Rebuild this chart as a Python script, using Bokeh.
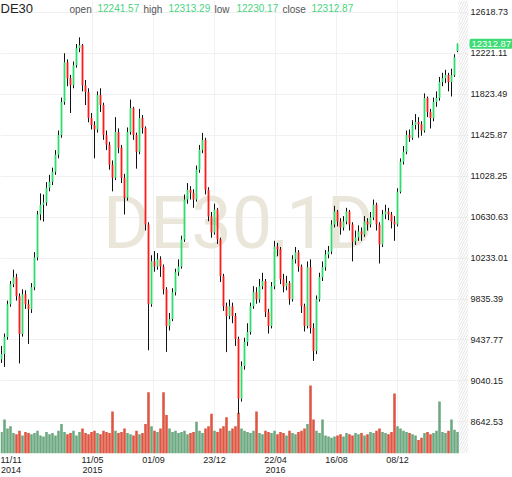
from bokeh.plotting import figure
from bokeh.models import Range1d, FixedTicker, Label, BoxAnnotation
from bokeh.embed import file_html
from bokeh.resources import INLINE

# ---- data (one candle per ~4 trading days) ----
open_ = [9250, 9302, 9467, 9785, 9979, 10046, 9863, 9496, 9882, 9785,
         9737, 9950, 10239, 10655, 10751, 10771, 10916, 10974, 11070, 11234,
         11427, 11746, 12133, 11978, 11910, 12104, 12268, 12297, 11910, 11843,
         11592, 11524, 11480, 11814, 11717, 11427, 11331, 11138, 11012, 11457,
         11302, 11012, 10819, 11457, 11688, 11427, 11263, 11592, 11495, 10558,
         9785, 10201, 10152, 10220, 10152, 9930, 9573, 9641, 9901, 10094,
         10152, 10413, 10800, 10896, 10867, 10800, 11089, 11283, 11379, 10896,
         10635, 10481, 10703, 10413, 10056, 9766, 9670, 9766, 9670, 9447,
         8868, 9186, 9418, 9515, 9766, 9901, 9834, 9959, 10010, 9708,
         9573, 9959, 10346, 10317, 10027, 9959, 9990, 9834, 10220, 10288,
         10152, 9766, 9573, 10143, 9553, 9331, 9834, 10046, 10143, 10268,
         10297, 10558, 10684, 10587, 10529, 10587, 10684, 10558, 10394, 10433,
         10491, 10462, 10587, 10558, 10626, 10751, 10558, 10365, 10655, 10684,
         10655, 10587, 10558, 10877, 11167, 11263, 11427, 11400, 11524, 11553,
         11530, 11470, 11785, 11650, 11592, 11746, 11785, 11940, 11978, 12010,
         11940, 12007, 12241.57]
close = [9302, 9467, 9785, 9979, 10046, 9863, 9496, 9882, 9785, 9737,
         9950, 10239, 10655, 10751, 10771, 10916, 10974, 11070, 11234, 11427,
         11746, 12133, 11978, 11910, 12104, 12268, 12297, 11910, 11843, 11592,
         11524, 11480, 11814, 11717, 11427, 11331, 11138, 11012, 11457, 11302,
         11012, 10819, 11457, 11688, 11427, 11263, 11592, 11495, 10558, 9785,
         10201, 10152, 10220, 10152, 9930, 9573, 9641, 9901, 10094, 10152,
         10413, 10800, 10896, 10867, 10800, 11089, 11283, 11379, 10896, 10635,
         10481, 10703, 10413, 10056, 9766, 9670, 9766, 9670, 9447, 8868,
         9186, 9418, 9515, 9766, 9901, 9834, 9959, 10010, 9708, 9573,
         9959, 10346, 10317, 10027, 9959, 9990, 9834, 10220, 10288, 10152,
         9766, 9573, 10143, 9553, 9331, 9834, 10046, 10143, 10268, 10297,
         10558, 10684, 10587, 10529, 10587, 10684, 10558, 10394, 10433, 10491,
         10462, 10587, 10558, 10626, 10751, 10558, 10365, 10655, 10684, 10655,
         10587, 10558, 10877, 11167, 11263, 11427, 11400, 11524, 11553, 11530,
         11470, 11785, 11650, 11592, 11746, 11785, 11940, 11978, 12010, 11940,
         12007, 12180, 12312.87]
high = [9380, 9500, 9820, 10010, 10120, 10080, 9890, 9930, 9920, 9830,
        9990, 10290, 10690, 10860, 10850, 10970, 11040, 11110, 11280, 11470,
        11790, 12220, 12160, 12010, 12140, 12310, 12374, 12310, 11960, 11880,
        11640, 11560, 11850, 11880, 11740, 11470, 11360, 11180, 11600, 11490,
        11330, 11050, 11500, 11770, 11700, 11450, 11680, 11620, 11510, 10580,
        10260, 10300, 10280, 10250, 10170, 9950, 9700, 9940, 10130, 10220,
        10450, 10850, 10960, 10930, 10900, 11130, 11330, 11447, 11400, 10920,
        10680, 10760, 10720, 10430, 10080, 9800, 9830, 9800, 9700, 9470,
        9230, 9460, 9600, 9800, 9960, 9950, 10030, 10090, 10030, 9740,
        10000, 10400, 10380, 10340, 10080, 10060, 10010, 10260, 10340, 10310,
        10170, 9790, 10200, 10220, 9600, 9870, 10090, 10200, 10310, 10350,
        10600, 10740, 10700, 10620, 10640, 10720, 10700, 10580, 10500, 10550,
        10530, 10640, 10620, 10680, 10800, 10770, 10580, 10700, 10750, 10720,
        10680, 10640, 10910, 11200, 11320, 11470, 11480, 11570, 11630, 11600,
        11560, 11830, 11800, 11680, 11790, 11850, 11990, 12030, 12060, 12030,
        12070, 12210, 12313.29]
low = [9215, 9177, 9440, 9760, 9950, 9820, 9210, 9470, 9740, 9399,
       9700, 9920, 10210, 10600, 10587, 10740, 10880, 10940, 11040, 11200,
       11400, 11720, 11900, 11640, 11880, 12080, 12230, 11850, 11717, 11550,
       11480, 11200, 11450, 11650, 11380, 11280, 11090, 10880, 10990, 11250,
       10960, 10655, 10790, 11430, 11380, 11100, 11240, 11440, 10500, 9338,
       9760, 10100, 10120, 10050, 9880, 9322, 9530, 9620, 9870, 10060,
       10130, 10390, 10760, 10800, 10720, 10780, 11060, 11250, 10850, 10590,
       10430, 10460, 10370, 10000, 9720, 9320, 9640, 9600, 9380, 8723,
       8840, 9150, 9380, 9490, 9740, 9790, 9800, 9930, 9660, 9500,
       9550, 9930, 10250, 9980, 9900, 9920, 9780, 9810, 10180, 10100,
       9700, 9520, 9550, 9500, 9235, 9300, 9810, 10010, 10110, 10230,
       10270, 10530, 10540, 10460, 10500, 10560, 10500, 10200, 10360, 10400,
       10400, 10440, 10500, 10530, 10600, 10500, 10180, 10340, 10610, 10600,
       10520, 10400, 10540, 10860, 11140, 11240, 11360, 11380, 11480, 11400,
       11420, 11450, 11600, 11490, 11560, 11700, 11760, 11900, 11930, 11850,
       11800, 11990, 12230.17]
volume = [95, 150, 110, 120, 90, 85, 100, 80, 95, 90,
          85, 90, 100, 80, 75, 95, 85, 90, 80, 100,
          130, 95, 85, 90, 100, 80, 95, 110, 90, 85,
          95, 100, 90, 85, 100, 95, 90, 185, 100, 90,
          95, 110, 90, 85, 80, 100, 85, 90, 130, 270,
          120, 100, 95, 110, 270, 170, 110, 95, 100, 90,
          95, 100, 85, 90, 95, 140, 100, 90, 110, 120,
          175, 100, 95, 110, 120, 160, 100, 110, 120, 180,
          110, 100, 95, 90, 100, 185, 90, 85, 100, 95,
          90, 100, 85, 95, 90, 80, 100, 90, 85, 95,
          100, 110, 130, 300, 150, 100, 90, 150, 80, 75,
          70, 75, 80, 85, 75, 90, 85, 80, 90, 85,
          90, 80, 85, 95, 90, 100, 110, 95, 90, 85,
          95, 265, 120, 110, 100, 95, 90, 85, 80, 60,
          70, 90, 95, 85, 90, 100, 230, 95, 90, 100,
          150, 105, 95]

x_ticks = [3, 30.33, 50.67, 71, 91.33, 111.67, 132]
x_labels = ["11/11\n2014", "11/05\n2015", "01/09", "23/12", "22/04\n2016", "16/08", "08/12"]
y_ticks = [8642.53, 9040.15, 9437.77, 9835.39, 10233.01, 10630.63,
           11028.25, 11425.87, 11823.49, 12221.11, 12618.73]
y_labels = ["8642.53", "9040.15", "9437.77", "9835.39", "10233.01", "10630.63",
            "11028.25", "11425.87", "11823.49", "12221.11", "12618.73"]

symbol = "DE30"
header = [("open", "12241.57"), ("high", "12313.29"), ("low", "12230.17"), ("close", "12312.87")]
last_price = close[-1]

# ---- styles ----
UP = "#2fdc6e"
DOWN = "#ff1a1a"
VUP = "#6ca880"
VDOWN = "#de5541"
FONT = "Liberation Sans"
W, H = 512, 477
BOTTOM = 22          # x-axis band
PLOT_RIGHT = 468     # right edge of candle area (pixels)
LABEL_X = 470        # left edge of price labels (pixels)

N = len(close)
idx = list(range(N))
up = [c >= o for o, c in zip(open_, close)]
body_top = [max(o, c) for o, c in zip(open_, close)]
body_bot = [min(o, c) for o, c in zip(open_, close)]
colors = [UP if u else DOWN for u in up]
vcolors = [VUP if u else VDOWN for u in up]

FH = H - BOTTOM
p = figure(width=W, height=H,
           x_range=Range1d(-1 / 3, (W - 1) / 3),
           y_range=Range1d(8336.4, 12731.7),
           y_axis_location="right",
           output_backend="svg", toolbar_location=None,
           min_border_left=0, min_border_top=0, min_border_right=0,
           min_border_bottom=BOTTOM)
p.outline_line_color = None
p.background_fill_color = "white"
p.border_fill_color = "white"
p.extra_y_ranges = {"vol": Range1d(0, 2000)}

# price axis: labels drawn back over the right strip of the frame
ya = p.yaxis[0]
ya.ticker = FixedTicker(ticks=y_ticks)
ya.major_label_overrides = dict(zip(y_ticks, y_labels))
ya.axis_line_color = None
ya.major_tick_line_color = None
ya.minor_tick_line_color = None
ya.major_tick_out = 0
ya.major_tick_in = 0
ya.minor_tick_out = 0
ya.major_label_standoff = LABEL_X - W
ya.major_label_text_font_size = "9px"
ya.major_label_text_font = FONT
ya.major_label_text_color = "#222222"

xa = p.xaxis[0]
xa.ticker = FixedTicker(ticks=x_ticks)
xa.major_label_overrides = dict(zip(x_ticks, x_labels))
xa.axis_line_color = None
xa.major_tick_line_color = None
xa.minor_tick_line_color = None
xa.major_tick_out = 0
xa.major_tick_in = 0
xa.minor_tick_out = 0
xa.major_label_standoff = 1
xa.major_label_text_font_size = "9px"
xa.major_label_text_line_height = 1.0
xa.major_label_text_font = FONT
xa.major_label_text_color = "#222222"

p.ygrid.ticker = FixedTicker(ticks=y_ticks)
p.xgrid.ticker = FixedTicker(ticks=x_ticks[1:])
p.ygrid.grid_line_color = "#f1f1f1"
p.xgrid.grid_line_color = "#f1f1f1"

# hatched strip right of the last candle, then a white band under the price labels
edge = (PLOT_RIGHT - 1) / 3
p.add_layout(BoxAnnotation(left=N - 0.67, right=edge, fill_color=None, fill_alpha=0,
                           line_color=None, hatch_pattern="/", hatch_color="#e4e4e4",
                           hatch_scale=5, hatch_weight=1, level="underlay"))
p.add_layout(BoxAnnotation(left=edge, fill_color="white", fill_alpha=1,
                           line_color=None, level="underlay"))

# watermark
p.add_layout(Label(x=238, y=FH - 225, x_units="screen", y_units="screen", text="DE30,1D",
                   text_align="center", text_baseline="middle",
                   text_font="Roboto", text_font_size="72px", text_color="#ebe6da",
                   level="underlay"))

# volume
p.vbar(x=idx, width=0.85, top=volume, bottom=0, y_range_name="vol",
       fill_color=vcolors, line_color=None)

# candles
p.segment(x0=idx, y0=high, x1=idx, y1=low, line_color="#111111", line_width=1)
p.vbar(x=idx, width=0.6, top=body_top, bottom=body_bot, fill_color=colors, line_color=None)

# header
p.add_layout(Label(x=0, y=FH - 10, x_units="screen", y_units="screen", text=symbol,
                   text_font=FONT, text_font_size="13px", text_color="#222222",
                   text_baseline="alphabetic"))
hx = [(69, 97), (143, 168), (214, 236), (282, 311)]
for (word, num), (wx, nx) in zip(header, hx):
    p.add_layout(Label(x=wx, y=FH - 10.7, x_units="screen", y_units="screen", text=word,
                       text_font=FONT, text_font_size="10px", text_color="#555555",
                       text_baseline="alphabetic"))
    p.add_layout(Label(x=nx, y=FH - 9, x_units="screen", y_units="screen", text=num,
                       text_font=FONT, text_font_size="10px", text_color="#48d47e",
                       text_baseline="alphabetic"))

# last price tag
p.add_layout(Label(x=PLOT_RIGHT + 1, y=last_price, x_units="screen", y_units="data",
                   text=f"{last_price:.2f}", text_font=FONT, text_font_size="9.5px",
                   text_color="white", text_baseline="middle", text_align="left",
                   background_fill_color="#3ddc74", padding=2, border_radius=2))

open("out.html", "w").write(file_html(p, INLINE))
